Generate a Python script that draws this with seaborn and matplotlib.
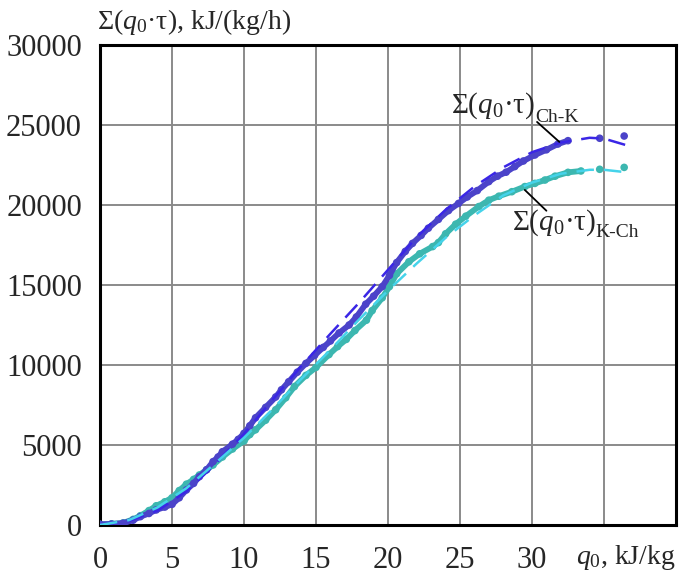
import numpy as np
import pandas as pd
import matplotlib
matplotlib.use("Agg")
import matplotlib.pyplot as plt
from matplotlib.ticker import MultipleLocator
import seaborn as sns

# measured data, Ch-K direction
chk_x = [0, 0.8, 1.6, 2.3, 2.8, 3.4, 3.9, 4.5, 5.0, 5.5, 6.0, 6.5, 6.9, 7.4, 7.85, 8.2, 8.5,
         9.2, 9.6, 10.0, 10.4, 10.8, 11.5, 12.2, 12.6, 13.1, 13.7, 14.3, 14.9, 15.5, 16.0,
         16.6, 17.3, 17.8, 18.45, 19.0, 19.6, 20.1, 20.6, 21.2, 21.7, 22.3, 22.8, 23.5,
         24.2, 24.9, 25.5, 26.2, 27.0, 27.6, 28.2, 28.8, 29.4, 30.2, 31.0, 31.8, 32.5,
         34.7, 36.4]
chk_y = [40, 60, 110, 300, 520, 720, 940, 1120, 1290, 1700, 2190, 2600, 3020, 3450, 3960,
         4250, 4580, 5050, 5350, 5730, 6200, 6700, 7350, 8000, 8450, 8950, 9550, 10100,
         10600, 11100, 11500, 12000, 12500, 13000, 13800, 14300, 14900, 15600, 16400,
         17100, 17600, 18100, 18550, 19100, 19650, 20100, 20500, 20900, 21460, 21800,
         22050, 22400, 22750, 23125, 23450, 23810, 24020, 24170, 24310]

# measured data, K-Ch direction
kch_x = [0, 0.8, 1.6, 2.3, 2.8, 3.4, 3.9, 4.5, 5.0, 5.5, 6.0, 6.5, 6.9, 7.4, 7.85, 8.5,
         9.2, 10.0, 10.4, 10.8, 11.5, 12.2, 12.9, 13.5, 14.3, 15.0, 15.9, 16.5, 17.1,
         17.7, 18.5, 18.9, 19.6, 20.1, 20.6, 21.45, 22.2, 23.1, 23.5, 24.0, 24.7, 25.4,
         26.3, 27.0, 27.7, 28.6, 29.5, 30.2, 30.9, 31.6, 32.5, 33.4, 34.7, 36.4]
kch_y = [40, 70, 130, 350, 580, 900, 1200, 1450, 1700, 2150, 2550, 2850, 3125, 3450, 3750,
         4250, 4750, 5250, 5650, 5950, 6550, 7200, 7950, 8650, 9350, 9850, 10650, 11150,
         11600, 12150, 12800, 13400, 14200, 14900, 15700, 16450, 16950, 17400, 17650,
         18200, 18800, 19300, 19900, 20300, 20550, 20830, 21150, 21350, 21560, 21800,
         22040, 22125, 22230, 22350]

# dashed approximations
fit_x = [0, 2, 4, 6, 8, 10, 12, 14, 16, 18, 20, 22, 24, 26, 28, 30, 32, 34, 35, 36.5]
chk_fit = [0, 250, 900, 2100, 3800, 5700, 7850, 9950, 11950, 13900, 15950, 18000, 19700,
           21150, 22350, 23300, 23900, 24200, 24150, 23750]
kch_fit = [0, 300, 1100, 2300, 3850, 5450, 7250, 9150, 10950, 12850, 14650, 16350, 17950,
           19350, 20600, 21400, 21950, 22200, 22200, 22050]

sns.set_style("white")
plt.rcParams["font.family"] = ["Liberation Serif", "DejaVu Serif"]
plt.rcParams["mathtext.fontset"] = "custom"
plt.rcParams["mathtext.rm"] = "Liberation Serif"
plt.rcParams["mathtext.it"] = "Liberation Serif:italic"

c_chk, c_chk_fit = "#4b43c9", "#3a26e6"
c_kch, c_kch_fit = "#3cb7b0", "#45d3ea"

chk = pd.DataFrame({"x": chk_x, "y": chk_y})
kch = pd.DataFrame({"x": kch_x, "y": kch_y})
fits = pd.DataFrame({"x": fit_x, "chk": chk_fit, "kch": kch_fit})

fig = plt.figure(figsize=(6.79, 5.79), dpi=100)
ax = fig.add_axes([0.1473, 0.0933, 0.8483, 0.829])

# thick measured traces (continuous part) + dots
for df, col in [(kch, c_kch), (chk, c_chk)]:
    cont = df[df["x"] <= 33.5]
    sns.lineplot(data=cont, x="x", y="y", color=col, lw=4.2, sort=False, ax=ax,
                 solid_capstyle="round", zorder=3)
    sns.scatterplot(data=df, x="x", y="y", color=col, s=30, edgecolor="none", ax=ax, zorder=3)

sns.lineplot(data=fits, x="x", y="chk", color=c_chk_fit, lw=1.8, ax=ax, zorder=4,
             linestyle=(0, (7, 4)))
sns.lineplot(data=fits, x="x", y="kch", color=c_kch_fit, lw=1.8, ax=ax, zorder=4,
             linestyle=(0, (7, 4)))

ax.set_xlim(0, 40)
ax.set_ylim(0, 30000)
ax.xaxis.set_minor_locator(MultipleLocator(1))
ax.yaxis.set_major_locator(MultipleLocator(5000))
ax.yaxis.set_minor_locator(MultipleLocator(1000))
ax.set_xticks([0, 5, 10, 15, 20, 25, 30, 35, 40])
ax.set_xticklabels(["0", "5", "10", "15", "20", "25", "30", "", ""])
ax.tick_params(axis="both", which="major", direction="out", length=9, width=1.8,
               labelsize=22, color="black")
ax.tick_params(axis="both", which="minor", direction="out", length=6, width=1.5,
               color="black")
ax.tick_params(axis="x", pad=6)
ax.tick_params(axis="y", pad=4)
ax.grid(True, which="major", color="#8a8a8a", lw=1.4)
for s in ax.spines.values():
    s.set_color("black")
    s.set_linewidth(2.2)
ax.set_xlabel("")
ax.set_ylabel("")

ax.text(-0.006, 1.048, r"Σ($q_0$·τ), kJ/(kg/h)", transform=ax.transAxes,
        ha="left", va="center", fontsize=20)
ax.text(1.0, -0.068, r"$q_0$, kJ/kg", transform=ax.transAxes,
        ha="right", va="center", fontsize=20)

# curve labels with leader lines
ax.text(24.4, 26200, r"Σ($q_0$·τ)", fontsize=21, ha="left", va="center")
ax.text(30.2, 25450, "Ch-K", fontsize=14, ha="left", va="center")
ax.plot([30.35, 31.9], [25190, 23940], color="black", lw=1.3, zorder=5)

ax.text(28.6, 18900, r"Σ($q_0$·τ)", fontsize=21, ha="left", va="center")
ax.text(34.4, 18250, "K-Ch", fontsize=14, ha="left", va="center")
ax.plot([29.5, 31.0], [20940, 19640], color="black", lw=1.3, zorder=5)

fig.savefig("out.png", dpi=100)
